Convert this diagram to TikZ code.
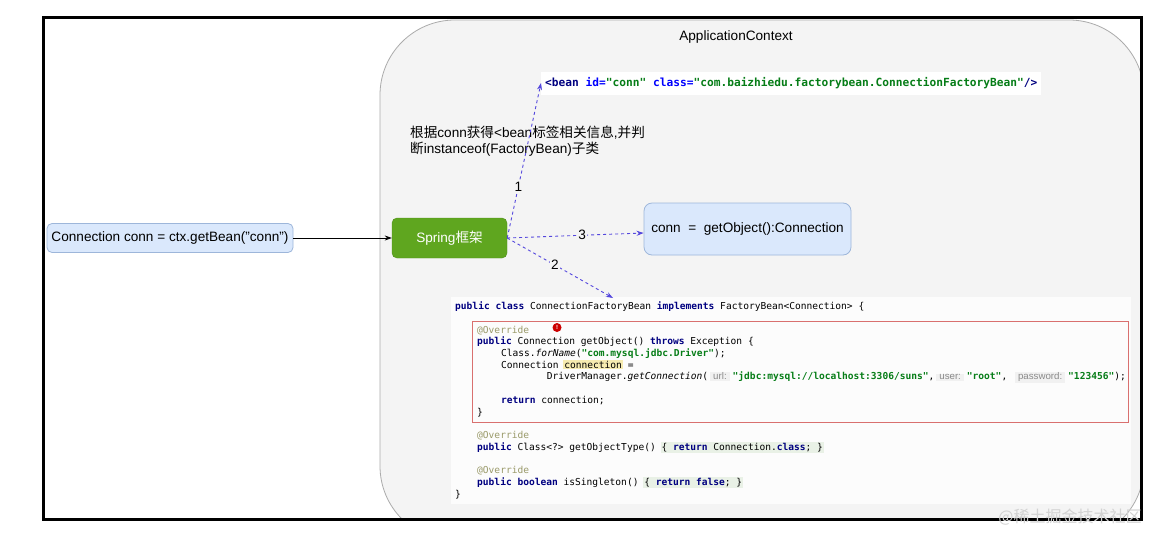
\documentclass[tikz,border=0pt]{standalone}
\usepackage{fontspec}
\setmainfont{Liberation Sans}
\newfontfamily\cjk{Noto Sans CJK SC}
\newfontfamily\mono{DejaVu Sans Mono}
\newfontfamily\hintfont{Liberation Sans}
\usetikzlibrary{arrows.meta}
\definecolor{ctxbg}{HTML}{F4F4F4}
\definecolor{ctxline}{HTML}{ABABAB}
\definecolor{bluefill}{HTML}{DAE8FC}
\definecolor{blueline}{HTML}{9DB6DA}
\definecolor{springg}{HTML}{5FA61F}
\definecolor{springline}{HTML}{4E8F1A}
\definecolor{flowc}{HTML}{5447DD}
\definecolor{kwc}{HTML}{000080}
\definecolor{strc}{HTML}{067D17}
\definecolor{attrc}{HTML}{0000FF}
\definecolor{annc}{HTML}{9A9A6A}
\definecolor{redbox}{HTML}{D9706F}
\definecolor{hlc}{HTML}{F6EBB0}
\definecolor{hintc}{HTML}{8A8A8A}
\definecolor{hintbg}{HTML}{F1F1F1}
\definecolor{foldbg}{HTML}{E9F1E6}
\definecolor{codebg}{HTML}{FCFCFC}
\definecolor{wmark}{HTML}{D2D2D2}
\newcommand\codefont{\mono\fontsize{9.57}{11}\selectfont}
\newcommand\beanfont{\mono\fontsize{11.2}{12}\selectfont\bfseries}
\newcommand\txtfont{\fontsize{13.6}{16}\selectfont}
\newcommand\kw[1]{{\bfseries\color{kwc}#1}}
\newcommand\str[1]{{\bfseries\color{strc}#1}}
\newcommand\ann[1]{{\color{annc}#1}}
\newcommand\bgbox[2]{{\setlength\fboxsep{1pt}\hspace{-1pt}\colorbox{#1}{#2}\hspace{-1pt}}}
\newcommand\hint[1]{\hspace{3pt}\bgbox{hintbg}{\hspace{2pt}\hintfont\fontsize{9.7}{10}\selectfont\color{hintc}#1\hspace{2pt}}\hspace{4pt}}
\tikzset{
  codeline/.style={anchor=base west, inner sep=0pt, font=\codefont},
  flow/.style={flowc, dash pattern=on 3pt off 3pt, line width=0.9pt, -{Stealth[length=7pt,width=5pt]}},
  numlabel/.style={fill=ctxbg, inner sep=1pt, font=\txtfont, text=black},
  bluebox/.style={draw=blueline, fill=bluefill, line width=0.8pt, font=\txtfont},
}
\begin{document}
\begin{tikzpicture}[x=1pt,y=-1pt]
\useasboundingbox (0,0) rectangle (1155,533);
\fill[white] (0,0) rectangle (1155,533);
% application context container
\begin{scope}
  \clip (43,17) rectangle (1141,519);
  \draw[ctxline, fill=ctxbg, line width=0.8pt, rounded corners=75pt] (380,20) rectangle (1144,541);
\end{scope}
\node[font=\txtfont] (ctxlabel) at (736,37) {ApplicationContext};
% bean tag
\node[fill=white, inner xsep=4pt, inner ysep=0pt, minimum height=23pt, font=\beanfont, anchor=west] (bean) at (541,83)
  {{\color{kwc}<bean} {\color{attrc}id=}{\color{strc}"conn"} {\color{attrc}class=}{\color{strc}"com.baizhiedu.factorybean.ConnectionFactoryBean"}{\color{kwc}/>}};
% explanation text
\node[anchor=base west, inner sep=0pt, font=\txtfont] (info1) at (410,137) {{\cjk 根据}conn{\cjk 获得}<bean{\cjk 标签相关信息},{\cjk 并判}};
\node[anchor=base west, inner sep=0pt, font=\txtfont] (info2) at (410,153) {{\cjk 断}instanceof(FactoryBean){\cjk 子类}};
% main nodes
\node[bluebox, rounded corners=5pt, minimum width=246pt, minimum height=29pt, inner xsep=1pt] (client) at (170,238) {Connection conn = ctx.getBean("conn")};
\node[draw=springline, fill=springg, rounded corners=5pt, minimum width=115pt, minimum height=40pt, text=white, font=\txtfont] (spring) at (449.5,238) {Spring{\cjk 框架}};
\node[bluebox, rounded corners=8pt, minimum width=207pt, minimum height=52pt] (conn) at (747.5,229) {conn~~=~~getObject():Connection};
\draw[line width=0.8pt, -{Stealth[length=7pt,width=5pt]}] (client) -- (spring);
% code block
\fill[codebg] (451,297) rectangle (1131,504);
\draw[redbox, line width=0.9pt] (472,321) rectangle (1128,422);
\coordinate (codetop) at (613,298);
\node[codeline] (l0) at (455,309.5) {\kw{public class} ConnectionFactoryBean \kw{implements} FactoryBean<Connection> \{};
\node[codeline] (l2) at (477,333) {\ann{@Override}};
\node[circle, fill=red!80!black, inner sep=0pt, minimum size=9pt, text=white, font=\hintfont\fontsize{6}{6}\selectfont\bfseries] (badge) at (557,327.5) {!};
\node[codeline] (l3) at (477,344.7) {\kw{public} Connection getObject() \kw{throws} Exception \{};
\node[codeline] (l4) at (500.8,356.4) {Class.{\itshape forName}(\str{"com.mysql.jdbc.Driver"});};
\node[codeline] (l5) at (500.8,368.2) {Connection \bgbox{hlc}{connection} =};
\node[codeline] (l6) at (546.7,379.9) {DriverManager.{\itshape getConnection}(\hint{url:}\str{"jdbc:mysql://localhost:3306/suns"},\hint{user:}\str{"root"},\ \hint{password:}\str{"123456"});};
\node[codeline] (l8) at (500.8,403.3) {\kw{return} connection;};
\node[codeline] (l9) at (477,415.1) {\}};
\node[codeline] (l11) at (477,438.5) {\ann{@Override}};
\node[codeline] (l12) at (477,450.3) {\kw{public} Class<?> getObjectType() \bgbox{foldbg}{\{ \kw{return} Connection.\kw{class}; \}}};
\node[codeline] (l14) at (477,473.7) {\ann{@Override}};
\node[codeline] (l15) at (477,485.4) {\kw{public boolean} isSingleton() \bgbox{foldbg}{\{ \kw{return false}; \}}};
\node[codeline] (l16) at (455,497.2) {\}};
% flows
\draw[flow] (spring.east) -- node[numlabel, pos=0.33] (n1) {1} (bean.west);
\draw[flow] (spring.east) -- node[numlabel, pos=0.55] (n3) {3} ([yshift=-4pt]conn.west);
\draw[flow] (spring.east) -- node[numlabel, pos=0.45] (n2) {2} (codetop);
% frame
\draw[line width=3pt] (43,17) rectangle (1141,519);
\node[text=wmark, font=\cjk\fontsize{16}{16}\selectfont] (wm) at (1070,517) {@稀土掘金技术社区};
\end{tikzpicture}
\end{document}
